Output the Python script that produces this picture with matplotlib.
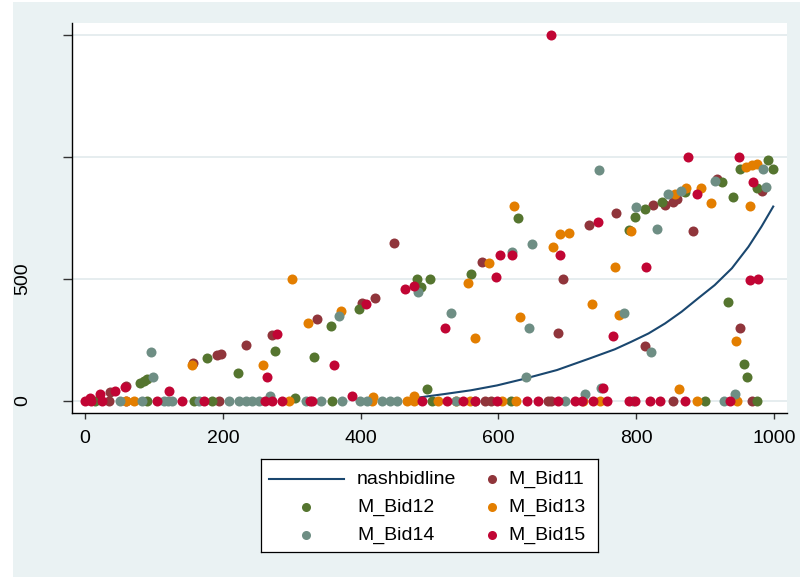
import matplotlib
matplotlib.use("Agg")
import matplotlib.pyplot as plt
from matplotlib.patches import Rectangle
from matplotlib.lines import Line2D

plt.rcParams["font.family"] = ["Liberation Sans", "DejaVu Sans"]

# nash equilibrium bid curve
nash_x = [486, 520, 560, 598, 636, 685, 733, 769, 793, 818, 842, 866, 890, 914,
          939, 963, 982, 999]
nash_y = [15, 28, 44, 64, 90, 127, 175, 212, 243, 277, 318, 366, 421, 475,
          544, 632, 715, 797]

# observed bids per subject
bid11_x = [36, 60, 157, 192, 198, 233, 272, 336, 402, 421, 449, 576, 694, 687, 732,
           771, 824, 842, 854, 859, 882, 813, 917, 951, 983,
           34, 59, 194, 581, 590, 672, 677, 854, 968]
bid11_y = [38, 63, 154, 187, 193, 230, 269, 335, 400, 423, 649, 570, 499, 279, 720,
           769, 803, 803, 814, 828, 698, 225, 908, 301, 862,
           0, 0, 0, 0, 0, 0, 0, 0, 0]

bid12_x = [80, 85, 90, 177, 222, 276, 333, 357, 398, 482, 501, 487, 497, 560, 629,
           790, 799, 813, 837, 871, 924, 940, 951, 991, 998, 975, 933, 956, 961, 305,
           15, 90, 158, 184, 358, 503, 619, 900, 975]
bid12_y = [74, 82, 90, 175, 115, 205, 179, 307, 376, 499, 499, 469, 51, 519, 748,
           701, 753, 787, 814, 858, 899, 838, 950, 988, 950, 872, 404, 150, 98, 14,
           0, 0, 0, 0, 0, 0, 0, 0, 0]

bid13_x = [155, 259, 300, 324, 372, 418, 478, 556, 587, 566, 622, 631, 679, 689, 702,
           736, 770, 775, 792, 856, 873, 894, 909, 945, 959, 965, 968, 976, 862,
           59, 71, 296, 416, 467, 477, 513, 539, 559, 605, 626, 723, 747, 888, 946]
bid13_y = [146, 148, 499, 321, 369, 18, 20, 485, 566, 258, 799, 346, 632, 686, 690,
           399, 548, 352, 698, 848, 872, 874, 810, 245, 958, 798, 969, 972, 50,
           0, 0, 0, 0, 0, 0, 0, 0, 0, 0, 0, 0, 0, 0, 0]

bid14_x = [95, 99, 268, 369, 483, 531, 620, 640, 644, 649, 726, 746, 749, 782, 800,
           822, 830, 846, 865, 914, 943, 984, 988,
           51, 83, 114, 121, 126, 165, 209, 223, 233, 242, 252, 320, 343, 373, 399,
           409, 431, 443, 453, 539, 566, 697, 796, 927]
bid14_y = [200, 97, 20, 350, 445, 361, 609, 98, 301, 645, 30, 948, 52, 359, 796,
           200, 705, 847, 862, 903, 27, 950, 879,
           0, 0, 0, 0, 0, 0, 0, 0, 0, 0, 0, 0, 0, 0, 0,
           0, 0, 0, 0, 0, 0, 0, 0, 0]

bid15_x = [7, 22, 44, 58, 122, 264, 278, 361, 387, 408, 465, 477, 522, 596, 602,
           620, 676, 690, 745, 752, 766, 815, 876, 889, 950, 965, 977, 970,
           0, 8, 25, 104, 141, 172, 261, 271, 286, 327, 330, 489, 526, 549, 566,
           598, 641, 658, 687, 711, 721, 738, 757, 789, 798, 820, 835, 871, 936]
bid15_y = [12, 27, 41, 59, 42, 100, 275, 148, 20, 396, 458, 473, 298, 508, 597,
           598, 1500, 597, 734, 55, 265, 549, 999, 848, 999, 495, 499, 899,
           0, 0, 0, 0, 0, 0, 0, 0, 0, 0, 0, 0, 0, 0, 0,
           0, 0, 0, 0, 0, 0, 0, 0, 0, 0, 0, 0, 0, 0]

series = [
    ("M_Bid11", bid11_x, bid11_y, "#90353b"),
    ("M_Bid12", bid12_x, bid12_y, "#55752f"),
    ("M_Bid13", bid13_x, bid13_y, "#e37e00"),
    ("M_Bid14", bid14_x, bid14_y, "#6e8e84"),
    ("M_Bid15", bid15_x, bid15_y, "#c10534"),
]
line_color = "#1a476f"
bg = "#eaf2f3"

W, H = 800, 577
fig = plt.figure(figsize=(W / 100, H / 100), dpi=100, facecolor=bg)
# thin white margin on the left/top edge of the graph region
fig.patches.append(Rectangle((0, 0), 13 / W, 1, transform=fig.transFigure,
                             facecolor="white", edgecolor="none", zorder=-10))
fig.patches.append(Rectangle((0, 1 - 2 / H), 1, 2 / H, transform=fig.transFigure,
                             facecolor="white", edgecolor="none", zorder=-10))

ax = fig.add_axes([72 / W, 1 - 413 / H, (787 - 72) / W, (413 - 23) / H])
ax.set_facecolor("white")

ax.plot(nash_x, nash_y, color=line_color, lw=1.5, zorder=2, solid_joinstyle="round")
for name, xs, ys, c in series:
    ax.scatter(xs, ys, s=52, color=c, linewidths=0, zorder=3)

ax.set_xlim(-19, 1019)
ax.set_ylim(-49, 1549)
ax.set_xticks([0, 200, 400, 600, 800, 1000])
ax.set_yticks([0, 500, 1000, 1500])
ax.set_yticklabels(["0", "500", "", ""])

for sp in ["top", "right"]:
    ax.spines[sp].set_visible(False)
for sp in ["left", "bottom"]:
    ax.spines[sp].set_linewidth(1.0)
    ax.spines[sp].set_color("black")

ax.grid(axis="y", color="#e4ecee", lw=1.3)
ax.set_axisbelow(True)
ax.tick_params(axis="x", length=4.5, width=1, color="#333333", labelsize=14, pad=8)
ax.tick_params(axis="y", length=6.5, width=1, color="#333333", labelsize=14, pad=23)
for lab in ax.get_yticklabels():
    lab.set_rotation(90)
    lab.set_va("center")

# legend box drawn in pixel units
lg = fig.add_axes([261 / W, 1 - 552 / H, (598 - 261) / W, (552 - 459) / H])
lg.set_xlim(261, 598)
lg.set_ylim(552, 459)
lg.set_xticks([])
lg.set_yticks([])
lg.set_facecolor("white")
for sp in lg.spines.values():
    sp.set_linewidth(0.9)
    sp.set_color("black")

rows = [479, 507, 535]
lg.add_line(Line2D([269, 344], [rows[0], rows[0]], color=line_color, lw=1.5))
lg.text(357, rows[0], "nashbidline", fontsize=14, va="center", ha="left")
entries = [
    (492, 508, rows[0], series[0]),
    (306, 357, rows[1], series[1]),
    (492, 508, rows[1], series[2]),
    (306, 357, rows[2], series[3]),
    (492, 508, rows[2], series[4]),
]
for mx, tx, ry, (name, _, _, c) in entries:
    lg.plot([mx], [ry], "o", ms=6.5, color=c, mew=0)
    lg.text(tx, ry, name, fontsize=14, va="center", ha="left")

fig.savefig("out.png", dpi=100, facecolor=bg)
